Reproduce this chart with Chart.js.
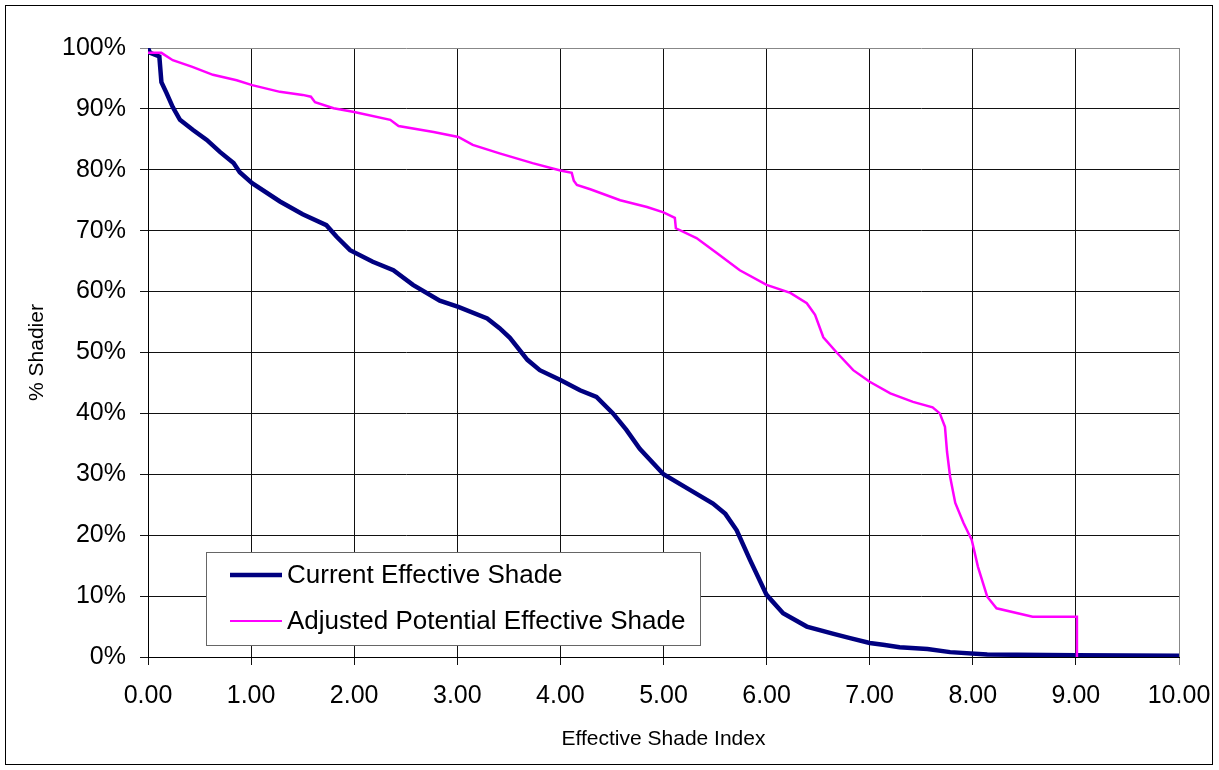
<!DOCTYPE html>
<html>
<head>
<meta charset="utf-8">
<title>Effective Shade Index</title>
<script src="https://cdn.jsdelivr.net/npm/chart.js@4.4.1/dist/chart.umd.min.js"></script>
<style>
  html, body { margin: 0; padding: 0; background: #fff; }
  canvas { display: block; }
</style>
</head>
<body>
<canvas id="chart" width="1219" height="770"></canvas>
<script>
// values
const seriesNames = ['Current Effective Shade', 'Adjusted Potential Effective Shade'];

const currentX = [0, 0.02, 0.11, 0.13, 0.18, 0.24, 0.31, 0.44, 0.57, 0.70, 0.83, 0.89, 1.01, 1.28, 1.50,
  1.73, 1.83, 1.96, 2.18, 2.38, 2.57, 2.83, 3.01, 3.29, 3.41, 3.51, 3.68, 3.80, 4.00, 4.19, 4.35,
  4.51, 4.64, 4.77, 5.00, 5.26, 5.48, 5.60, 5.71, 5.84, 6.00, 6.16, 6.39, 6.65, 6.81, 7.00, 7.13,
  7.29, 7.56, 7.78, 8.14, 9.00, 10.00];
const currentY = [100, 99.2, 98.6, 94.4, 92.6, 90.3, 88.2, 86.5, 84.9, 82.9, 81.1, 79.6, 77.8, 74.8, 72.7,
  70.9, 69.0, 66.8, 64.9, 63.5, 61.1, 58.5, 57.5, 55.6, 54.0, 52.4, 48.8, 47.1, 45.5, 43.8, 42.7,
  40.0, 37.3, 34.2, 30.0, 27.4, 25.2, 23.5, 20.8, 15.9, 10.2, 7.2, 5.0, 3.8, 3.1, 2.3, 2.0,
  1.6, 1.3, 0.8, 0.4, 0.3, 0.2];

const adjustedX = [0, 0.13, 0.24, 0.43, 0.63, 0.86, 1.01, 1.28, 1.50, 1.58, 1.62, 1.80, 2.00, 2.35, 2.43,
  2.77, 3.01, 3.15, 3.41, 3.73, 4.00, 4.11, 4.13, 4.16, 4.29, 4.58, 4.84, 5.00, 5.11, 5.12, 5.32,
  5.52, 5.74, 6.00, 6.23, 6.39, 6.47, 6.55, 6.68, 6.84, 7.00, 7.20, 7.42, 7.61, 7.68, 7.73, 7.75,
  7.78, 7.83, 7.91, 7.99, 8.05, 8.14, 8.23, 8.58, 9.01, 9.01];
const adjustedY = [99.2, 99.2, 98.0, 96.9, 95.6, 94.7, 93.9, 92.8, 92.3, 92.0, 91.1, 90.1, 89.5, 88.2, 87.2,
  86.2, 85.4, 84.1, 82.7, 81.1, 79.9, 79.5, 78.2, 77.5, 76.8, 75.0, 73.9, 73.0, 72.1, 70.4, 68.8,
  66.3, 63.5, 61.1, 59.8, 58.1, 56.2, 52.5, 50.0, 47.1, 45.2, 43.3, 41.9, 41.0, 40.0, 37.8, 33.7,
  29.6, 25.3, 22.0, 19.2, 14.8, 9.9, 8.0, 6.6, 6.6, 0];

const xTickValues = [0, 1, 2, 3, 4, 5, 6, 7, 8, 9, 10];
const yTickValues = [0, 10, 20, 30, 40, 50, 60, 70, 80, 90, 100];

const NAVY = '#000080';
const MAGENTA = '#ff00ff';
const FONT = "'Liberation Sans', Arial, sans-serif";

const toPoints = (xs, ys) => xs.map((x, i) => ({ x: x, y: ys[i] }));

// white page + thin frame round the whole picture
const frame = {
  id: 'frame',
  beforeDraw(chart) {
    const ctx = chart.ctx;
    ctx.save();
    ctx.fillStyle = '#fff';
    ctx.fillRect(0, 0, chart.width, chart.height);
    ctx.restore();
  },
  afterDraw(chart) {
    const ctx = chart.ctx;
    ctx.save();
    ctx.strokeStyle = '#000';
    ctx.lineWidth = 1;
    ctx.strokeRect(5.5, 5.5, chart.width - 12, chart.height - 11);
    ctx.restore();
  }
};

// boxed legend sitting inside the plot, like the Excel one
const legendBox = {
  id: 'legendBox',
  beforeDatasetsDraw(chart) {
    const ctx = chart.ctx;
    const left = 206, top = 552, w = 494, h = 93;
    ctx.save();
    ctx.fillStyle = '#fff';
    ctx.fillRect(left, top, w, h);
    ctx.strokeStyle = '#666';
    ctx.lineWidth = 1;
    ctx.strokeRect(left + 0.5, top + 0.5, w, h);

    const rows = [
      { label: seriesNames[0], color: NAVY, width: 4.5, y: 575 },
      { label: seriesNames[1], color: MAGENTA, width: 2, y: 621 }
    ];
    ctx.font = '26px ' + FONT;
    ctx.textBaseline = 'middle';
    ctx.textAlign = 'left';
    rows.forEach(r => {
      ctx.strokeStyle = r.color;
      ctx.lineWidth = r.width;
      ctx.beginPath();
      ctx.moveTo(230, r.y);
      ctx.lineTo(282, r.y);
      ctx.stroke();
      ctx.fillStyle = '#000';
      ctx.fillText(r.label, 287, r.y + 1);
    });
    ctx.restore();
  }
};

const gridColor = edgeValue => c => (c.tick && c.tick.value === edgeValue ? '#888' : '#111');

const ctx = document.getElementById('chart').getContext('2d');
new Chart(ctx, {
  type: 'line',
  data: {
    datasets: [
      {
        label: seriesNames[1],
        data: toPoints(adjustedX, adjustedY),
        borderColor: MAGENTA,
        borderWidth: 2.5,
        pointRadius: 0,
        tension: 0,
        fill: false
      },
      {
        label: seriesNames[0],
        data: toPoints(currentX, currentY),
        borderColor: NAVY,
        borderWidth: 4.5,
        pointRadius: 0,
        tension: 0,
        fill: false
      }
    ]
  },
  options: {
    responsive: false,
    animation: false,
    devicePixelRatio: 1,
    layout: { padding: { top: 48, right: 40, left: 0, bottom: 0 } },
    plugins: {
      legend: { display: false },
      tooltip: { enabled: false }
    },
    scales: {
      x: {
        type: 'linear',
        min: 0,
        max: 10,
        afterBuildTicks: scale => { scale.ticks = xTickValues.map(v => ({ value: v })); },
        afterFit: scale => {
          scale.height = 113;
          scale.paddingLeft = 0;
          scale.paddingRight = 0;
        },
        ticks: {
          callback: v => Number(v).toFixed(2),
          color: '#000',
          font: { family: FONT, size: 25 },
          padding: 16,
          maxRotation: 0,
          autoSkip: false
        },
        grid: { color: gridColor(10), lineWidth: 1, tickLength: 8 },
        border: { color: '#000', width: 1 },
        title: {
          display: true,
          text: 'Effective Shade Index',
          color: '#000',
          font: { family: FONT, size: 21 },
          padding: { top: 0, bottom: 18 }
        }
      },
      y: {
        min: 0,
        max: 100,
        afterBuildTicks: scale => { scale.ticks = yTickValues.map(v => ({ value: v })); },
        afterFit: scale => {
          scale.width = 148;
          scale.paddingTop = 0;
          scale.paddingBottom = 0;
        },
        ticks: {
          callback: v => v + '%',
          color: '#000',
          font: { family: FONT, size: 25 },
          padding: 14
        },
        grid: { color: gridColor(100), lineWidth: 1, tickLength: 8 },
        border: { color: '#000', width: 1 },
        title: {
          display: true,
          text: '% Shadier',
          color: '#000',
          font: { family: FONT, size: 21 },
          padding: { top: 25, bottom: 0 }
        }
      }
    }
  },
  plugins: [frame, legendBox]
});
</script>
</body>
</html>
